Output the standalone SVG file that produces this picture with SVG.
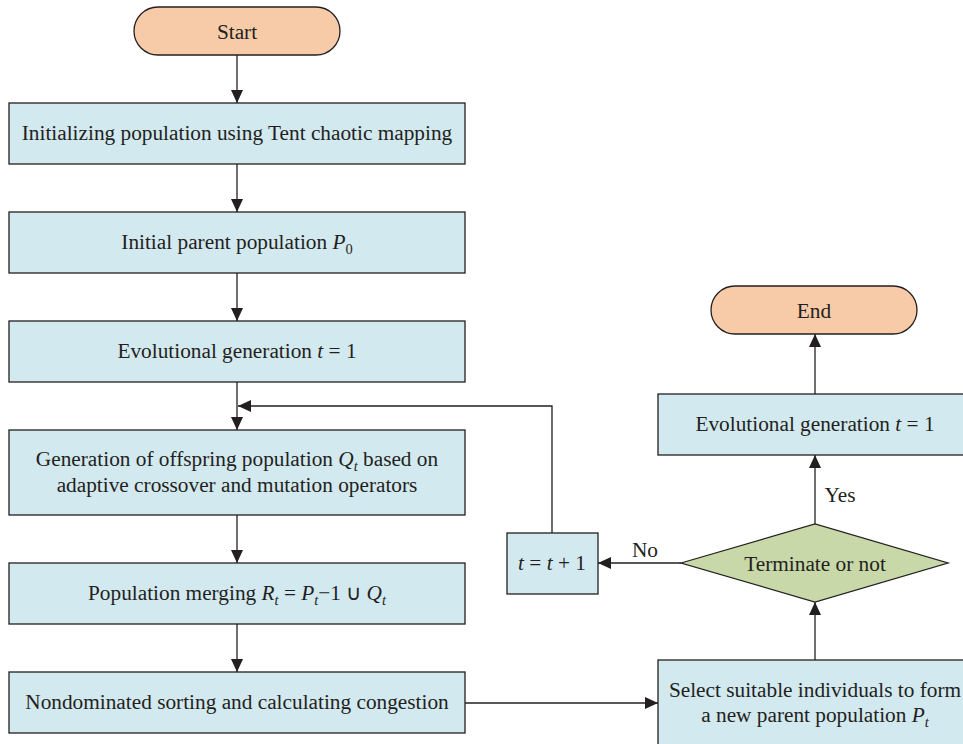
<svg xmlns="http://www.w3.org/2000/svg" width="963" height="744" viewBox="0 0 963 744">
<defs>
<marker id="ah" markerWidth="14" markerHeight="12" refX="13" refY="6" orient="auto" markerUnits="userSpaceOnUse">
<path d="M0,0 L13,6 L0,12 Z" fill="#231F20"/>
</marker>
<style>
.term{fill:#F7CBA8;stroke:#231F20;stroke-width:1.3}
.box{fill:#D3E9F0;stroke:#231F20;stroke-width:1.3}
.dec{fill:#C8D8A8;stroke:#231F20;stroke-width:1.3}
.t{font-family:"Liberation Serif","Times New Roman",serif;font-size:21.3px;fill:#231F20;text-anchor:middle}
.i{font-style:italic}
.s{font-size:14.5px}
.c{fill:none;stroke:#231F20;stroke-width:1.3;marker-end:url(#ah)}
</style>
</defs>
<rect width="963" height="744" fill="#FFFFFF"/>
<g id="connectors">
<path class="c" d="M237,55 V103"/>
<path class="c" d="M237,164 V212"/>
<path class="c" d="M237,273 V321"/>
<path class="c" d="M237,382 V430"/>
<path class="c" d="M237,515 V563"/>
<path class="c" d="M237,624 V672"/>
<path class="c" d="M552,533 V406 H238"/>
<path class="c" d="M465,703 H658"/>
<path class="c" d="M815,660 V602"/>
<path class="c" d="M681,563 H598"/>
<path class="c" d="M815,524 V455"/>
<path class="c" d="M815,394 V334"/>
<text class="t" x="840" y="502">Yes</text>
<text class="t" x="645" y="557">No</text>
</g>
<g id="start">
<rect class="term" x="134" y="7" width="206" height="48" rx="24"/>
<text class="t" x="237" y="39">Start</text>
</g>
<g id="init">
<rect class="box" x="9" y="103" width="456" height="61"/>
<text class="t" x="237" y="140">Initializing population using Tent chaotic mapping</text>
</g>
<g id="parent">
<rect class="box" x="9" y="212" width="456" height="61"/>
<text class="t" x="237" y="249">Initial parent population <tspan class="i">P</tspan><tspan class="s" dy="5">0</tspan></text>
</g>
<g id="gen1">
<rect class="box" x="9" y="321" width="456" height="61"/>
<text class="t" x="237" y="358">Evolutional generation <tspan class="i">t</tspan> = 1</text>
</g>
<g id="offspring">
<rect class="box" x="9" y="430" width="456" height="85"/>
<text class="t" x="237" y="466">Generation of offspring population <tspan class="i">Q</tspan><tspan class="i s" dy="5">t</tspan><tspan dy="-5"> based on</tspan></text>
<text class="t" x="237" y="492">adaptive crossover and mutation operators</text>
</g>
<g id="merge">
<rect class="box" x="9" y="563" width="456" height="61"/>
<text class="t" x="237" y="600">Population merging <tspan class="i">R</tspan><tspan class="i s" dy="5">t</tspan><tspan dy="-5"> = </tspan><tspan class="i">P</tspan><tspan class="i s" dy="5">t</tspan><tspan dy="-5">−1 ∪ </tspan><tspan class="i">Q</tspan><tspan class="i s" dy="5">t</tspan></text>
</g>
<g id="sort">
<rect class="box" x="9" y="672" width="456" height="61"/>
<text class="t" x="237" y="709">Nondominated sorting and calculating congestion</text>
</g>
<g id="select">
<rect class="box" x="658" y="660" width="314" height="100"/>
<text class="t" x="815" y="697">Select suitable individuals to form</text>
<text class="t" x="815" y="722">a new parent population <tspan class="i">P</tspan><tspan class="i s" dy="5">t</tspan></text>
</g>
<g id="decision">
<polygon class="dec" points="681,563 815,524 948,563 815,602"/>
<text class="t" x="815" y="571">Terminate or not</text>
</g>
<g id="inc">
<rect class="box" x="507" y="533" width="91" height="61"/>
<text class="t" x="552" y="570"><tspan class="i">t</tspan> = <tspan class="i">t</tspan> + 1</text>
</g>
<g id="gen2">
<rect class="box" x="658" y="394" width="314" height="61"/>
<text class="t" x="815" y="431">Evolutional generation <tspan class="i">t</tspan> = 1</text>
</g>
<g id="end">
<rect class="term" x="711" y="286" width="206" height="48" rx="24"/>
<text class="t" x="814" y="318">End</text>
</g>
</svg>
